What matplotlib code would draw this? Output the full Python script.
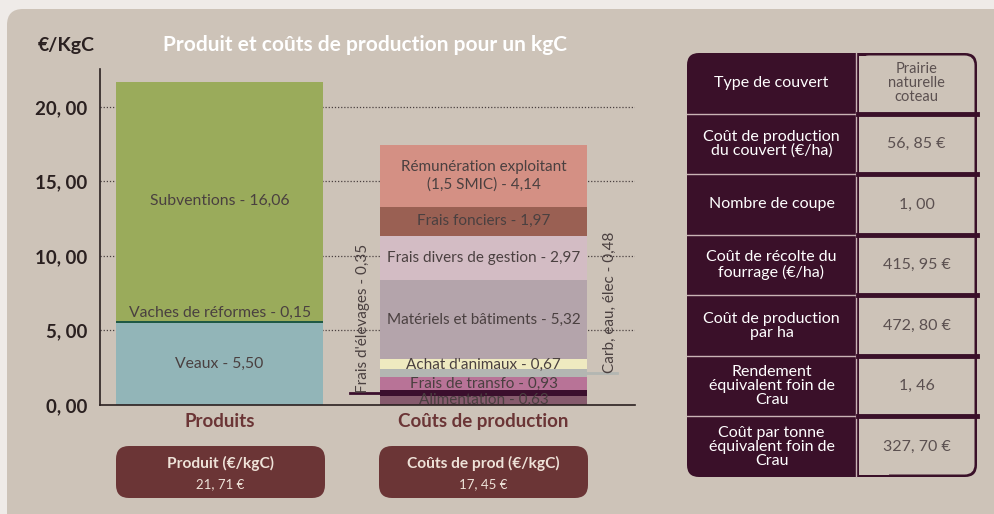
# produit_couts_kgc.py
# Produit et coûts de production pour un kgC + tableau du couvert
import matplotlib.pyplot as plt
from matplotlib.patches import FancyBboxPatch, Rectangle

plt.rcParams['font.family'] = ['Lato', 'DejaVu Sans']

# --- data ---
prod_labels = ["Veaux - 5,50", "Vaches de réformes - 0,15", "Subventions - 16,06"]
prod_values = [5.50, 0.15, 16.06]
prod_colors = ["#92b5b8", "#1f5944", "#9aab5b"]

cout_labels = ["Alimentation - 0,63", "Frais d'élevages - 0,35", "Frais de transfo - 0,93",
               "Carb, eau, élec - 0,48", "Achat d'animaux - 0,67", "Matériels et bâtiments - 5,32",
               "Frais divers de gestion - 2,97", "Frais fonciers - 1,97",
               "Rémunération exploitant\n(1,5 SMIC) - 4,14"]
cout_values = [0.63, 0.35, 0.93, 0.48, 0.67, 5.32, 2.97, 1.97, 4.14]
cout_colors = ["#865b6d", "#3b0f2d", "#b87397", "#b3b6b2", "#efeac0", "#b4a4ab",
               "#d3bcc4", "#9a6053", "#d49084"]

categories = ["Produits", "Coûts de production"]
yticks = [0, 5, 10, 15, 20]
ytick_labels = ["0, 00", "5, 00", "10, 00", "15, 00", "20, 00"]
box_titles = ["Produit (€/kgC)", "Coûts de prod (€/kgC)"]
box_values = ["21, 71 €", "17, 45 €"]

table_left = ["Type de couvert", "Coût de production\ndu couvert (€/ha)", "Nombre de coupe",
              "Coût de récolte du\nfourrage (€/ha)", "Coût de production\npar ha",
              "Rendement\néquivalent foin de\nCrau", "Coût par tonne\néquivalent foin de\nCrau"]
table_right = ["Prairie\nnaturelle\ncoteau", "56, 85 €", "1, 00", "415, 95 €", "472, 80 €",
               "1, 46", "327, 70 €"]

PANEL = "#cdc3b8"
DARK = "#3a1029"
MAROON = "#6b3536"
TXT = "#4a4040"

fig = plt.figure(figsize=(9.95, 5.14), dpi=100)
fig.patch.set_facecolor("#efebe8")

# background layer in pixel coords
bg = fig.add_axes([0, 0, 1, 1], zorder=0)
bg.set_xlim(0, 995)
bg.set_ylim(514, 0)
bg.axis("off")
bg.add_patch(FancyBboxPatch((7, 9), 1010, 520, boxstyle="round,pad=0,rounding_size=16",
                            fc=PANEL, ec="none"))

bg.text(38, 45, "€/KgC", fontsize=14, fontweight="bold", color="#2a2020", va="center")
bg.text(163, 45, "Produit et coûts de production pour un kgC", fontsize=15,
        fontweight="bold", color="white", va="center")

# boxes under the bars
for i, (t, v) in enumerate(zip(box_titles, box_values)):
    x0 = 116 + i * 263
    bg.add_patch(FancyBboxPatch((x0, 446), 209, 52, boxstyle="round,pad=0,rounding_size=13",
                                fc=MAROON, ec="none"))
    bg.text(x0 + 104.5, 463, t, fontsize=11.2, fontweight="bold", color="#eee2d8",
            ha="center", va="center")
    bg.text(x0 + 104.5, 484, v, fontsize=9.5, color="#eee2d8", ha="center", va="center")

# table
tx0, tx1, tsplit = 687, 977, 856
ty0, ty1 = 53, 477
rh = (ty1 - ty0) / len(table_left)
bg.add_patch(FancyBboxPatch((tx0, ty0), tx1 - tx0, ty1 - ty0,
                            boxstyle="round,pad=0,rounding_size=12", fc=DARK, ec="none"))
bg.add_patch(FancyBboxPatch((tsplit + 3, ty0 + 2.5), tx1 - tsplit - 5.5, ty1 - ty0 - 5,
                            boxstyle="round,pad=0,rounding_size=10", fc=PANEL, ec="none"))
bg.add_patch(Rectangle((tsplit + 3, ty0 + 2.5), 30, ty1 - ty0 - 5, fc=PANEL, ec="none"))
bg.plot([tsplit, tsplit], [ty0, ty1], color="#c9b3b5", lw=1)
for i, (l, r) in enumerate(zip(table_left, table_right)):
    yc = ty0 + rh * (i + 0.5)
    if i > 0:
        yl = ty0 + rh * i
        bg.plot([tx0, tsplit], [yl, yl], color="#c9b3b5", lw=1)
        bg.plot([tsplit + 2, tx1], [yl, yl], color=DARK, lw=3.5)
    bg.text((tx0 + tsplit) / 2, yc, l, fontsize=11.5, color="white", ha="center",
            va="center", linespacing=1.0)
    bg.text((tsplit + tx1) / 2, yc, r, fontsize=10.5 if i == 0 else 11.5, color="#5b5050",
            ha="center", va="center", linespacing=1.0)

# --- chart ---
ax = fig.add_axes([100 / 995, 109 / 514, 535 / 995, 336 / 514], zorder=1)
ax.set_facecolor("none")
ax.set_xlim(-0.453, 1.574)
ax.set_ylim(0, 22.55)
w = 0.784

for y in yticks[1:]:
    ax.axhline(y, color="#4a4040", lw=0.9, ls=(0, (1, 1.5)), zorder=0)

bottom = 0
for lab, v, c in zip(prod_labels, prod_values, prod_colors):
    ax.bar(0, v, w, bottom=bottom, color=c, zorder=2)
    if v < 1:
        ax.text(0, bottom + v + 0.08, lab, ha="center", va="bottom", fontsize=11.3,
                color=TXT, zorder=3)
    else:
        ax.text(0, bottom + v / 2, lab, ha="center", va="center", fontsize=11.3,
                color=TXT, zorder=3)
    bottom += v

bottom = 0
for i, (lab, v, c) in enumerate(zip(cout_labels, cout_values, cout_colors)):
    ax.bar(1, v, w, bottom=bottom, color=c, zorder=2)
    mid = bottom + v / 2
    if i == 1:
        ax.plot([0.494, 1 - w / 2], [mid, mid], color="#3b0f2d", lw=2, zorder=2)
        ax.text(0.545, mid, lab, rotation=90, ha="center", va="bottom", fontsize=11,
                color=TXT, zorder=3)
    elif i == 3:
        ax.plot([1 + w / 2, 1.506], [mid, mid], color="#b3b6b2", lw=2, zorder=2)
        ax.text(1.479, mid, lab, rotation=90, ha="center", va="bottom", fontsize=11,
                color=TXT, zorder=3)
    else:
        ax.text(1, mid, lab, ha="center", va="center", fontsize=11, color=TXT,
                zorder=3, linespacing=1.3)
    bottom += v

ax.spines[["top", "right"]].set_visible(False)
for s in ("left", "bottom"):
    ax.spines[s].set_color("#2a2020")
    ax.spines[s].set_linewidth(1.2)
ax.set_yticks(yticks)
ax.set_yticklabels(ytick_labels, fontsize=13.5, fontweight="bold", color="#2a2020")
ax.tick_params(axis="y", length=0, pad=9)
ax.set_xticks([0, 1])
ax.set_xticklabels(categories, fontsize=13.5, fontweight="bold", color=MAROON)
ax.tick_params(axis="x", length=0, pad=6)

fig.savefig("out.png", dpi=100, facecolor=fig.get_facecolor())
